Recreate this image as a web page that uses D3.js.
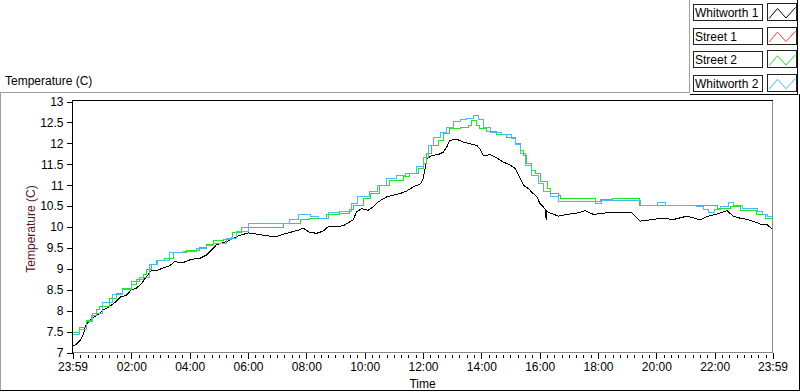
<!DOCTYPE html>
<html>
<head>
<meta charset="utf-8">
<script src="https://cdn.jsdelivr.net/npm/d3@7"></script>
<style>
  body { margin: 0; background: #fff; }
  svg { display: block; font-family: "Liberation Sans", Arial, sans-serif; font-size: 12px; }
</style>
</head>
<body>
<svg id="chart" width="800" height="392"></svg>
<script>
// series, hours after 23:59 -> temperature (C)
const seriesNames = ['Whitworth 1', 'Street 1', 'Street 2', 'Whitworth 2'];
const seriesColors = ['#000000', '#ff3b3b', '#1ee61e', '#4ab8f6'];

const whitworth1 = [
  [0.00, 7.15], [0.12, 7.19], [0.24, 7.27], [0.35, 7.39], [0.47, 7.67], [0.58, 7.75], [0.70, 7.83],
  [0.93, 7.93], [1.04, 8.01], [1.27, 8.10], [1.50, 8.22], [1.67, 8.34], [1.84, 8.36], [2.02, 8.50],
  [2.19, 8.54], [2.36, 8.64], [2.47, 8.75], [2.59, 8.86], [2.70, 8.96], [2.89, 8.96], [3.10, 9.02],
  [3.33, 9.07], [3.50, 9.17], [3.79, 9.15], [4.08, 9.23], [4.36, 9.25], [4.59, 9.33], [4.82, 9.49],
  [4.93, 9.57], [5.28, 9.65], [5.62, 9.77], [6.02, 9.86], [6.31, 9.83], [6.65, 9.79], [6.99, 9.77],
  [7.34, 9.85], [7.56, 9.89], [7.77, 9.93], [7.91, 9.97], [8.14, 9.87], [8.37, 9.85], [8.59, 9.90],
  [8.77, 10.01], [9.05, 10.01], [9.28, 10.03], [9.62, 10.17], [9.74, 10.36], [9.91, 10.44],
  [10.14, 10.40], [10.31, 10.48], [10.48, 10.60], [10.77, 10.72], [11.00, 10.76], [11.23, 10.80],
  [11.46, 10.86], [11.68, 10.96], [11.91, 11.02], [12.01, 11.12], [12.09, 11.40], [12.16, 11.64],
  [12.32, 11.71], [12.54, 11.73], [12.71, 11.79], [12.83, 11.91], [12.94, 12.07], [13.17, 12.10],
  [13.40, 12.03], [13.63, 11.99], [13.86, 11.95], [13.97, 11.87], [14.09, 11.70], [14.32, 11.73],
  [14.55, 11.65], [14.72, 11.57], [15.00, 11.48], [15.18, 11.40], [15.32, 11.20], [15.46, 11.00],
  [15.63, 10.92], [15.75, 10.83], [15.92, 10.72], [16.03, 10.56], [16.15, 10.48], [16.22, 10.40],
  [16.24, 10.17], [16.26, 10.38], [16.38, 10.33], [16.55, 10.29], [16.66, 10.26], [16.95, 10.30],
  [17.29, 10.33], [17.58, 10.39], [17.86, 10.30], [18.32, 10.34], [18.78, 10.34], [19.18, 10.34],
  [19.30, 10.25], [19.47, 10.14], [19.81, 10.17], [20.16, 10.21], [20.61, 10.18], [21.07, 10.26],
  [21.53, 10.17], [21.76, 10.25], [22.10, 10.31], [22.44, 10.39], [22.67, 10.25], [22.90, 10.21],
  [23.13, 10.18], [23.36, 10.13], [23.59, 10.07], [23.82, 10.05], [24.00, 9.95]
];

// not visible in the picture (hidden under the other plots)
const street1 = [];

const street2 = [
  [0.00, 7.48], [0.24, 7.60], [0.47, 7.77], [0.64, 7.89], [0.81, 8.02], [0.93, 8.10], [1.27, 8.28],
  [1.50, 8.40], [1.73, 8.53], [2.02, 8.63], [2.19, 8.74], [2.42, 8.86], [2.55, 8.98], [2.70, 9.10],
  [2.87, 9.20], [3.16, 9.25], [3.45, 9.39], [3.91, 9.45], [4.36, 9.50], [4.59, 9.57], [4.82, 9.67],
  [5.16, 9.70], [5.45, 9.76], [5.50, 9.88], [5.79, 9.99], [7.22, 10.09], [7.80, 10.18], [8.14, 10.21],
  [8.71, 10.29], [9.16, 10.33], [9.51, 10.43], [9.62, 10.52], [9.97, 10.67], [10.20, 10.80],
  [10.54, 11.00], [10.88, 11.10], [11.34, 11.20], [11.57, 11.28], [11.86, 11.40], [12.03, 11.52],
  [12.14, 11.75], [12.32, 11.95], [12.54, 12.07], [12.71, 12.23], [12.94, 12.35], [13.29, 12.39],
  [13.58, 12.43], [13.69, 12.55], [13.86, 12.43], [13.97, 12.35], [14.20, 12.29], [14.55, 12.21],
  [14.89, 12.15], [15.18, 11.99], [15.35, 11.83], [15.46, 11.71], [15.57, 11.52], [15.75, 11.36],
  [15.86, 11.28], [16.03, 11.08], [16.27, 10.92], [16.38, 10.80], [16.66, 10.76], [16.72, 10.68],
  [17.92, 10.60], [18.10, 10.65], [18.50, 10.68], [19.45, 10.51], [22.10, 10.44], [22.55, 10.50],
  [22.90, 10.40], [23.46, 10.31], [23.76, 10.21], [24.00, 10.18]
];

const whitworth2 = [
  [0.00, 7.43], [0.24, 7.55], [0.47, 7.75], [0.70, 7.94], [1.04, 8.20], [1.38, 8.38], [1.72, 8.50],
  [2.02, 8.70], [2.31, 8.80], [2.64, 9.10], [2.93, 9.21], [3.33, 9.39], [3.79, 9.41], [4.25, 9.49],
  [4.59, 9.55], [4.82, 9.61], [5.28, 9.73], [5.62, 9.89], [6.02, 10.09], [7.45, 10.18], [7.75, 10.30],
  [8.15, 10.25], [8.45, 10.21], [8.77, 10.35], [9.17, 10.38], [9.55, 10.56], [9.78, 10.72],
  [10.17, 10.86], [10.46, 11.00], [10.77, 11.16], [11.12, 11.22], [11.40, 11.28], [11.80, 11.44],
  [12.03, 11.67], [12.20, 11.95], [12.37, 12.15], [12.60, 12.27], [12.83, 12.39], [13.06, 12.51],
  [13.29, 12.57], [13.52, 12.59], [13.74, 12.66], [13.92, 12.57], [14.09, 12.37], [14.32, 12.27],
  [14.72, 12.21], [15.06, 12.11], [15.18, 11.97], [15.35, 11.75], [15.52, 11.48], [15.75, 11.24],
  [15.97, 11.04], [16.15, 10.86], [16.38, 10.74], [16.66, 10.60], [17.92, 10.56], [18.15, 10.64],
  [19.47, 10.52], [20.05, 10.58], [20.33, 10.52], [21.40, 10.50], [21.65, 10.42], [21.82, 10.34],
  [22.00, 10.42], [22.22, 10.48], [22.50, 10.58], [22.67, 10.52], [22.96, 10.44], [23.48, 10.36],
  [23.65, 10.31], [23.82, 10.25], [24.00, 10.18]
];

const yTicks = [7, 7.5, 8, 8.5, 9, 9.5, 10, 10.5, 11, 11.5, 12, 12.5, 13];
const xTickLabels = ['23:59', '02:00', '04:00', '06:00', '08:00', '10:00', '12:00',
  '14:00', '16:00', '18:00', '20:00', '22:00', '23:59'];

const svg = d3.select('#chart');
const pLeft = 72.5, pRight = 772.5, pTop = 101.5, pBottom = 352.5;

// minutes after 23:59
const x = d3.scaleLinear().domain([0, 1440]).range([pLeft, pRight]);
const y = d3.scaleLinear().domain([7, 13]).range([pBottom, pTop]);

const toMin = (s, i) => {
  if (i === 0) return 0;
  if (i === xTickLabels.length - 1) return 1440;
  const [h, m] = s.split(':').map(Number);
  return h * 60 + m + 1;
};
const majorMin = xTickLabels.map(toMin);
const minorMin = d3.range(16, 1440, 15).filter(m => !majorMin.some(t => Math.abs(t - m) < 5));

// outer frames
const frame = svg.append('g').attr('fill', 'none').attr('shape-rendering', 'crispEdges');
frame.append('path').attr('stroke', '#a0a0a0').attr('d', 'M0.5,391V92.5H689.5V0');
frame.append('path').attr('stroke', '#000').attr('d', 'M690,94.5H797.5V0');
frame.append('path').attr('stroke', '#000').attr('d', 'M0,390.5H799.5V94');

svg.append('text').attr('x', 5).attr('y', 85).attr('fill', '#000').text('Temperature (C)');

// plot lines
svg.append('clipPath').attr('id', 'clip')
  .append('rect').attr('x', pLeft).attr('y', pTop - 1).attr('width', pRight - pLeft).attr('height', pBottom - pTop + 1);

const lineLinear = d3.line().x(d => x(d[0] * 60)).y(d => y(d[1]));
const lineStep = d3.line().x(d => x(d[0] * 60)).y(d => y(d[1])).curve(d3.curveStepAfter);

const plots = svg.append('g').attr('clip-path', 'url(#clip)').attr('fill', 'none')
  .attr('stroke-width', 1).attr('shape-rendering', 'crispEdges');
[whitworth1, street1, street2, whitworth2].forEach((data, i) => {
  if (!data.length) return;
  plots.append('path')
    .attr('d', (i === 0 ? lineLinear : lineStep)(data))
    .attr('stroke', seriesColors[i]);
});

// plot frame
const pf = svg.append('g').attr('fill', 'none').attr('shape-rendering', 'crispEdges');
pf.append('path').attr('stroke', '#000').attr('d', `M${pLeft},${pBottom}V${pTop - 1}H${pRight}`);
pf.append('path').attr('stroke', '#888').attr('d', `M${pRight},${pTop - 1}V${pBottom}H${pLeft}`);

// axes
const yAxis = svg.append('g').attr('transform', `translate(${pLeft},0)`)
  .call(d3.axisLeft(y).tickValues(yTicks).tickSize(6).tickPadding(3).tickFormat(d3.format('')));
const xAxis = svg.append('g').attr('transform', `translate(0,${pBottom})`)
  .call(d3.axisBottom(x).tickValues(majorMin).tickSize(6).tickPadding(4)
    .tickFormat((d, i) => xTickLabels[i]));
const xMinor = svg.append('g').attr('transform', `translate(0,${pBottom + 2})`)
  .call(d3.axisBottom(x).tickValues(minorMin).tickSize(3).tickFormat(''));
[yAxis, xAxis, xMinor].forEach(g => {
  g.select('.domain').remove();
  g.attr('font-family', null).attr('font-size', null);
  g.selectAll('line').attr('stroke', '#000').attr('shape-rendering', 'crispEdges');
  g.selectAll('text').attr('fill', '#000');
});

svg.append('text').attr('x', (pLeft + pRight) / 2).attr('y', 388).attr('text-anchor', 'middle')
  .attr('fill', '#000').text('Time');
svg.append('text').attr('transform', `translate(35,${(pTop + pBottom) / 2 + 2}) rotate(-90)`)
  .attr('text-anchor', 'middle').attr('fill', '#5a1428').text('Temperature (C)');

// legend
const legend = svg.append('g').selectAll('g').data(seriesNames).join('g')
  .attr('transform', (d, i) => `translate(0,${4 + i * 23.6})`);
legend.append('rect').attr('x', 693.5).attr('y', 0.5).attr('width', 69).attr('height', 16)
  .attr('fill', '#fff').attr('stroke', '#222').attr('shape-rendering', 'crispEdges');
legend.append('text').attr('x', 695).attr('y', 13).attr('fill', '#000').text(d => d);
legend.append('rect').attr('x', 767.5).attr('y', -0.5).attr('width', 29).attr('height', 17)
  .attr('fill', '#fff').attr('stroke', '#222').attr('shape-rendering', 'crispEdges');
legend.append('path').attr('fill', 'none').attr('stroke', (d, i) => seriesColors[i])
  .attr('d', 'M769,14.5L777.5,4.5L786,14L795.5,3.5');
</script>
</body>
</html>
